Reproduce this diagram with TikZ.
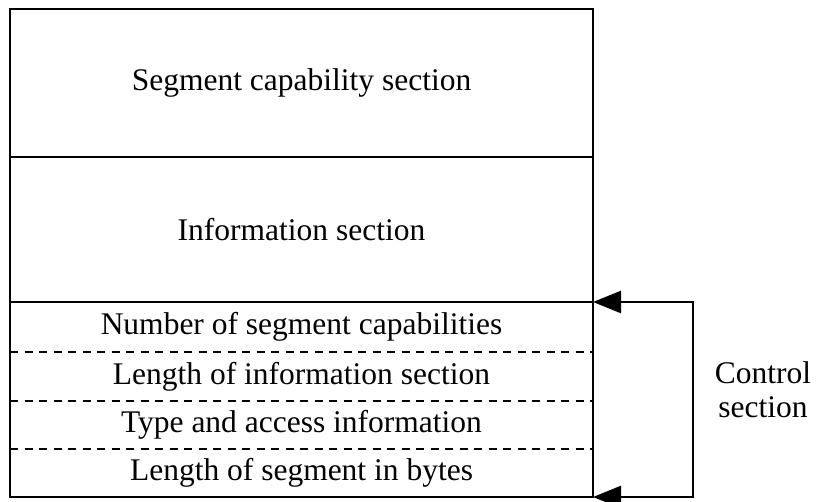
\documentclass[tikz,border=0pt]{standalone}
\usepackage{fontspec}
\setmainfont{Liberation Serif}
\usetikzlibrary{arrows.meta, positioning}

\begin{document}
\begin{tikzpicture}[x=1pt, y=-1pt,
    part/.style={rectangle, minimum width=583pt, inner sep=0pt, outer sep=0pt, font=\fontsize{31.5}{34}\selectfont},
    frame/.style={line width=2.6pt},
    divider/.style={line width=2.6pt, dash pattern=on 8pt off 6.5pt},
    >={Triangle[length=28pt, width=22pt]}
  ]
  \useasboundingbox (0, 0) rectangle (822, 501);

  \node[part, minimum height=148pt] (seg) at (301.5, 83) {Segment capability section};
  \node[part, minimum height=145pt] (info) at (301.5, 229.5) {Information section};
  \node[part, minimum height=50pt] (ncap) at (301.5, 327) {Number of segment capabilities};
  \node[part, minimum height=49pt] (ilen) at (301.5, 376.5) {Length of information section};
  \node[part, minimum height=48pt] (type) at (301.5, 425) {Type and access information};
  \node[part, minimum height=48pt] (slen) at (301.5, 473) {Length of segment in bytes};

  \draw[frame] (seg.north west) rectangle (slen.south east);
  \draw[frame] (seg.south west) -- (seg.south east);
  \draw[frame] (info.south west) -- (info.south east);
  \foreach \a in {ncap, ilen, type} {
    \draw[divider] (\a.south west) -- (\a.south east);
  }

  \coordinate (brk) at (693, 0);
  \draw[frame, <->] (ncap.north east) -- (ncap.north east -| brk) -- (slen.south east -| brk) -- (slen.south east);
  \node[font=\fontsize{31.5}{34}\selectfont, align=center] (ctrl) at (763, 390) {Control\\section};

\end{tikzpicture}
\end{document}
